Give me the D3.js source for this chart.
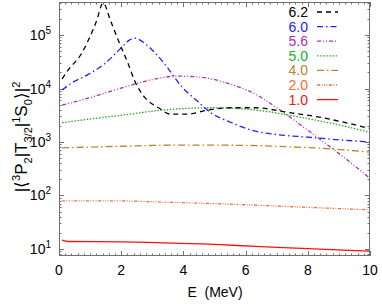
<!DOCTYPE html>
<html><head><meta charset="utf-8">
<script src="https://cdn.jsdelivr.net/npm/d3@7"></script>
<style>body{margin:0;background:#fff}svg{display:block}text{font-family:"Liberation Sans",Arial,sans-serif}</style>
</head><body>
<script>
// ---- data ----
const labels = ["6.2","6.0","5.6","5.0","4.0","2.0","1.0"];
const colors = ["#000000","#2020ff","#b030b8","#20b020","#b8862b","#ff6630","#ff1010"];
const dashes = ["5,4","6,3,1.5,3","4,2,1,2,1,2","1.5,1.6","7,3,1.5,3","3,1.5,1,1.5,1,1.5,1,1.5",null];

const e62 = [0.1,0.3,0.7,0.95,1.2,1.42,1.65,1.9,2.2,2.45,2.75,3.2,3.6,4.1,4.8,5.6,6.3,7.3,8.5,10];
const v62 = [15100,22400,42700,81300,178000,398000,190000,81300,31600,13200,6900,4370,3310,3310,3980,4370,4370,3630,2820,1780];
const e60 = [0.1,0.4,0.9,1.5,2.0,2.25,2.45,2.7,3.1,3.5,3.95,4.4,4.9,5.55,6.2,7.0,8.0,9.0,10];
const v60 = [9330,12600,17800,30200,57500,79400,87100,74100,45700,24000,10700,6170,3470,2290,1660,1380,1230,1100,1000];
const e56 = [0.1,1,2,2.8,3.8,4.6,5.4,6.2,7.1,8.0,8.65,9.3,10];
const v56 = [4900,6760,10200,13800,17000,16200,12600,8510,3980,1660,871,447,209];
const e50 = [0.1,1,2,3.4,4.9,6.3,7.4,8.5,9.3,10];
const v50 = [2290,2690,3160,3980,4370,3980,3160,2400,1900,1510];
const e40 = [0.1,2,3.6,5.2,6.5,7.4,8.8,10];
const v40 = [776,832,871,871,851,813,741,646];
const e20 = [0.1,2,3.1,4.5,6.3,8,10];
const v20 = [79,79,76,72,66,60,54];
const e10 = [0.1,0.3,2,3.1,5,6.3,8,10];
const v10 = [14.7,13.8,13.6,13.2,12.2,11.2,10.2,9.1];

const seriesE = [e62,e60,e56,e50,e40,e20,e10];
const seriesV = [v62,v60,v56,v50,v40,v20,v10];

const xTicks = [0,2,4,6,8,10];
const yExps = [1,2,3,4,5];

// ---- layout ----
const W = 382, H = 304;
const L = 59, R = 370, T = 2, B = 256;

const svg = d3.select("body").append("svg").attr("width",W).attr("height",H);

const x = d3.scaleLinear().domain([0,10]).range([L,R]);
const y = d3.scaleLog().domain([Math.pow(10,0.869),Math.pow(10,5.617)]).range([B,T]);

const frameColor = "#707070";

// minor/major ticks
const g = svg.append("g").attr("stroke",frameColor).attr("stroke-width",1);
for (let i=0;i<=50;i++){
  const v=i*0.2, px=Math.round(x(v))+0.5, len = (i%10===0)?5:2.5;
  g.append("line").attr("x1",px).attr("x2",px).attr("y1",B).attr("y2",B-len);
  g.append("line").attr("x1",px).attr("x2",px).attr("y1",T).attr("y2",T+len);
}
for (let d=0; d<=5; d++){
  for (let m=1;m<=9;m++){
    const v=m*Math.pow(10,d);
    if (v<y.domain()[0]||v>y.domain()[1]) continue;
    const py=Math.round(y(v))+0.5, len=(m===1)?5:2.5;
    g.append("line").attr("x1",L).attr("x2",L+len).attr("y1",py).attr("y2",py);
    g.append("line").attr("x1",R).attr("x2",R-len).attr("y1",py).attr("y2",py);
  }
}

// curves
const clip = svg.append("clipPath").attr("id","c").append("rect")
  .attr("x",L).attr("y",T).attr("width",R-L).attr("height",B-T);
const line = d3.line().x(d=>x(d[0])).y(d=>y(d[1])).curve(d3.curveMonotoneX);
const cg = svg.append("g").attr("clip-path","url(#c)");
for (let i=seriesE.length-1;i>=0;i--){
  const pts = seriesE[i].map((e,j)=>[e,seriesV[i][j]]);
  cg.append("path").attr("d",line(pts)).attr("fill","none")
    .attr("stroke",colors[i]).attr("stroke-width",1.3)
    .attr("stroke-dasharray",dashes[i]);
}

// frame
svg.append("rect").attr("x",L+0.5).attr("y",T+0.5).attr("width",R-L-1).attr("height",B-T-1)
  .attr("fill","none").attr("stroke",frameColor).attr("stroke-width",1);

// x tick labels
svg.append("g").selectAll("text").data(xTicks).join("text")
  .attr("x",d=>x(d)).attr("y",275).attr("text-anchor","middle")
  .attr("font-size",14).attr("fill","#000").text(d=>d);
// y tick labels
const yl = svg.append("g").selectAll("text").data(yExps).join("text")
  .attr("x",51).attr("y",d=>y(Math.pow(10,d))+5).attr("text-anchor","end")
  .attr("font-size",14).attr("fill","#000");
yl.append("tspan").text("10");
yl.append("tspan").attr("font-size",10).attr("dy",-6).text(d=>d);

// axis titles
svg.append("text").attr("x",215).attr("y",297).attr("text-anchor","middle")
  .attr("font-size",14).attr("fill","#000").attr("xml:space","preserve").text("E  (MeV)");

const yt = svg.append("text").attr("transform","translate(27,137) rotate(-90)")
  .attr("text-anchor","middle").attr("font-size",17).attr("fill","#000");
const parts = [["|⟨",0,17],["3",-7,11],["P",7,17],["2",5,11],["|T",-5,17],["3/2",5,11],["|",-5,17],["1",-7,11],["S",7,17],["0",5,11],["⟩|",-5,17],["2",-7,11]];
parts.forEach(p=>yt.append("tspan").attr("dy",p[1]).attr("font-size",p[2]).text(p[0]));

// legend
const lg = svg.append("g");
labels.forEach((lab,i)=>{
  const yy = 12 + i*14.6;
  lg.append("text").attr("x",308).attr("y",yy+5).attr("text-anchor","end")
    .attr("font-size",14).attr("fill",colors[i]).text(lab);
  lg.append("line").attr("x1",317).attr("x2",338).attr("y1",yy).attr("y2",yy)
    .attr("stroke",colors[i]).attr("stroke-width",1.3).attr("stroke-dasharray",dashes[i]);
});
</script>
</body></html>
